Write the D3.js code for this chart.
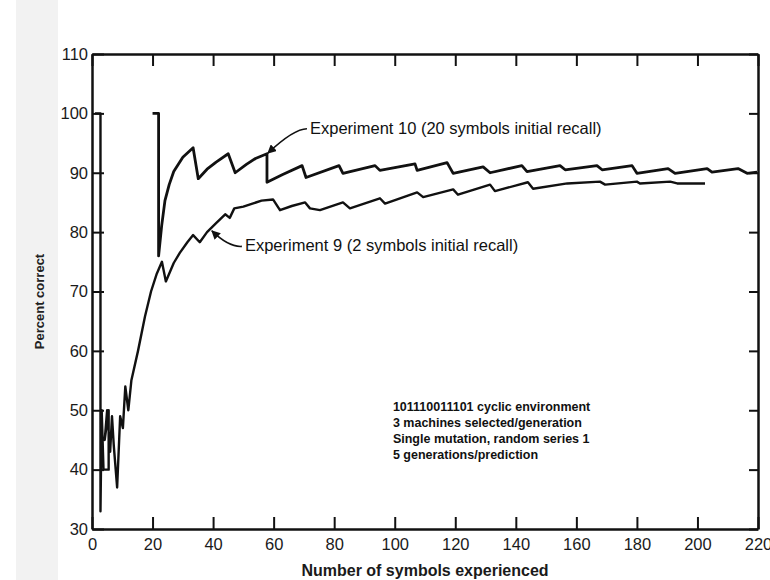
<!DOCTYPE html>
<html>
<head>
<meta charset="utf-8">
<script src="https://cdn.jsdelivr.net/npm/d3@7"></script>
<style>
  html, body { margin: 0; padding: 0; background: #fff; }
  svg { display: block; }
</style>
</head>
<body>
<div id="chart"></div>
<script>
// Experiment 10 (20 symbols initial recall): [symbols experienced, percent correct]
const exp10 = [
  [20, 100], [22, 100], [22, 76], [23, 81], [24.1, 85.3], [25.5, 88], [27, 90.2], [30, 92.6], [33.4, 94.2],
  [35.1, 89.0], [38, 90.6], [41, 91.8], [45, 93.2], [47.3, 90.0], [51, 91.4], [54, 92.4], [57.8, 93.2],
  [57.8, 88.4], [63, 89.7], [69.4, 91.2], [70.7, 89.2], [81.6, 91.2], [82.9, 89.9], [93.5, 91.2],
  [95.1, 90.4], [106.7, 91.5], [107.4, 90.4], [117.3, 91.7], [119.3, 89.9], [129.2, 91.0], [131.5, 90.0],
  [142, 91.2], [143.7, 90.2], [154.6, 91.2], [156.3, 90.5], [166.8, 91.2], [168.5, 90.5], [178.4, 91.2],
  [180, 89.9], [190.3, 90.7], [192.6, 89.9], [203.2, 90.7], [204.8, 90.1], [213.4, 90.7], [216.4, 89.9],
  [219.7, 90.1]
];

// Experiment 9 (2 symbols initial recall)
const exp9 = [
  [1, 100], [2.8, 100], [2.8, 33], [3.2, 50], [3.8, 40], [5.5, 40], [5.5, 50], [4.2, 45], [5, 50],
  [6, 43], [6.6, 49], [7.2, 44], [8.3, 37], [9.3, 49], [10.2, 47], [11, 54], [12, 50], [13, 55],
  [15.2, 60], [17.5, 65.8], [19.5, 70], [21.4, 73], [23.1, 75], [24.4, 71.7], [27, 74.8], [29, 76.5],
  [31.5, 78.3], [33.4, 79.5], [35.6, 78.3], [38, 80], [41, 81.5], [44, 83], [45.5, 82.4], [47, 84],
  [50, 84.3], [53, 84.8], [56, 85.3], [59.8, 85.5], [62.1, 83.7], [66, 84.4], [70.4, 85.0], [72, 84.0],
  [75.3, 83.7], [82.9, 85.0], [85.2, 84.0], [95.1, 85.7], [96.8, 84.8], [107.4, 86.7], [109.4, 85.9],
  [119.3, 87.2], [120.9, 86.3], [131.5, 88.0], [133.1, 86.9], [144, 88.4], [145.7, 87.3], [157, 88.2],
  [167.8, 88.5], [169.5, 88.0], [180, 88.5], [181, 88.2], [191, 88.5], [193.3, 88.2], [202.5, 88.2]
];

const xTicks = d3.range(0, 221, 20);
const yTicks = d3.range(30, 111, 10);

// annotations (data coordinates)
const labelText = ["Experiment 10 (20 symbols initial recall)", "Experiment 9 (2 symbols initial recall)"];
const labelAt = [[72, 97.4], [50.5, 77.6]];
const arrowTip = [[58.1, 93.3], [39.6, 80.2]];
const noteLines = [
  "101110011101 cyclic environment",
  "3 machines selected/generation",
  "Single mutation, random series 1",
  "5 generations/prediction"
];
const noteAt = [99.4, 50.5];

const W = 770, H = 580;
const margin = { top: 54, right: 12, bottom: 51, left: 92 };
const narrow = '"Liberation Sans Narrow", "Liberation Sans", sans-serif';

const svg = d3.select('#chart').append('svg')
  .attr('width', W)
  .attr('height', H);

// scanned-page grey strip on the left
svg.append('rect')
  .attr('x', 16).attr('y', 0)
  .attr('width', 42).attr('height', H)
  .attr('fill', '#f2f2f2');

const x = d3.scaleLinear().domain([0, 220]).range([margin.left, W - margin.right]);
const y = d3.scaleLinear().domain([30, 110]).range([H - margin.bottom, margin.top]);

function styleAxis(g) {
  g.select('.domain').attr('stroke', '#111').attr('stroke-width', 2.5);
  g.selectAll('.tick line').attr('stroke', '#111').attr('stroke-width', 2);
  g.selectAll('.tick text')
    .attr('font-family', '"Liberation Sans", Arial, sans-serif')
    .attr('font-size', 16.5)
    .attr('fill', '#1a1a1a');
}

svg.append('g')
  .attr('transform', `translate(0,${y(30)})`)
  .call(d3.axisBottom(x).tickValues(xTicks).tickSizeInner(-12).tickSizeOuter(0).tickPadding(9))
  .call(styleAxis);

svg.append('g')
  .attr('transform', `translate(0,${y(110)})`)
  .call(d3.axisTop(x).tickValues(xTicks).tickSizeInner(-12).tickSizeOuter(0).tickFormat(''))
  .call(styleAxis);

svg.append('g')
  .attr('transform', `translate(${x(0)},0)`)
  .call(d3.axisLeft(y).tickValues(yTicks).tickSizeInner(-12).tickSizeOuter(0).tickPadding(4))
  .call(styleAxis);

svg.append('g')
  .attr('transform', `translate(${x(220)},0)`)
  .call(d3.axisRight(y).tickValues(yTicks).tickSizeInner(-9).tickSizeOuter(0).tickFormat(''))
  .call(styleAxis);

// axis titles
svg.append('text')
  .attr('x', (x(0) + x(220)) / 2)
  .attr('y', 576)
  .attr('text-anchor', 'middle')
  .attr('font-family', narrow)
  .attr('font-weight', 'bold')
  .attr('font-size', 16)
  .attr('fill', '#1a1a1a')
  .text('Number of symbols experienced');

svg.append('text')
  .attr('transform', `translate(44,${(y(30) + y(110)) / 2 + 10}) rotate(-90)`)
  .attr('text-anchor', 'middle')
  .attr('font-family', narrow)
  .attr('font-weight', 'bold')
  .attr('font-size', 13)
  .attr('fill', '#222')
  .text('Percent correct');

// series
const line = d3.line().x(d => x(d[0])).y(d => y(d[1]));

svg.append('path')
  .datum(exp9)
  .attr('d', line)
  .attr('fill', 'none')
  .attr('stroke', '#111')
  .attr('stroke-width', 2.4)
  .attr('stroke-linejoin', 'round');

svg.append('path')
  .datum(exp10)
  .attr('d', line)
  .attr('fill', 'none')
  .attr('stroke', '#111')
  .attr('stroke-width', 2.8)
  .attr('stroke-linejoin', 'round');

// arrow marker for the labels
svg.append('defs').append('marker')
  .attr('id', 'arrow')
  .attr('viewBox', '0 0 10 10')
  .attr('refX', 9).attr('refY', 5)
  .attr('markerWidth', 9).attr('markerHeight', 9)
  .attr('markerUnits', 'userSpaceOnUse')
  .attr('orient', 'auto')
  .append('path')
  .attr('d', 'M0,0L10,5L0,10z')
  .attr('fill', '#111');

labelText.forEach((t, i) => {
  const lx = x(labelAt[i][0]), ly = y(labelAt[i][1]);
  const tx = x(arrowTip[i][0]), ty = y(arrowTip[i][1]);
  const cx = lx - 16;
  const cy = i === 0 ? ly : ly + 1;
  svg.append('path')
    .attr('d', `M${lx - 3},${ly}Q${cx},${cy} ${tx},${ty}`)
    .attr('fill', 'none')
    .attr('stroke', '#111')
    .attr('stroke-width', 1.6)
    .attr('marker-end', 'url(#arrow)');

  svg.append('text')
    .attr('x', lx)
    .attr('y', ly + 5)
    .attr('font-family', narrow)
    .attr('font-size', 16.5)
    .attr('fill', '#111')
    .text(t);
});

// conditions note
svg.append('g')
  .selectAll('text')
  .data(noteLines)
  .join('text')
  .attr('x', x(noteAt[0]))
  .attr('y', (d, i) => y(noteAt[1]) + 4 + i * 16)
  .attr('font-family', narrow)
  .attr('font-weight', 'bold')
  .attr('font-size', 12.5)
  .attr('fill', '#111')
  .text(d => d);
</script>
</body>
</html>
